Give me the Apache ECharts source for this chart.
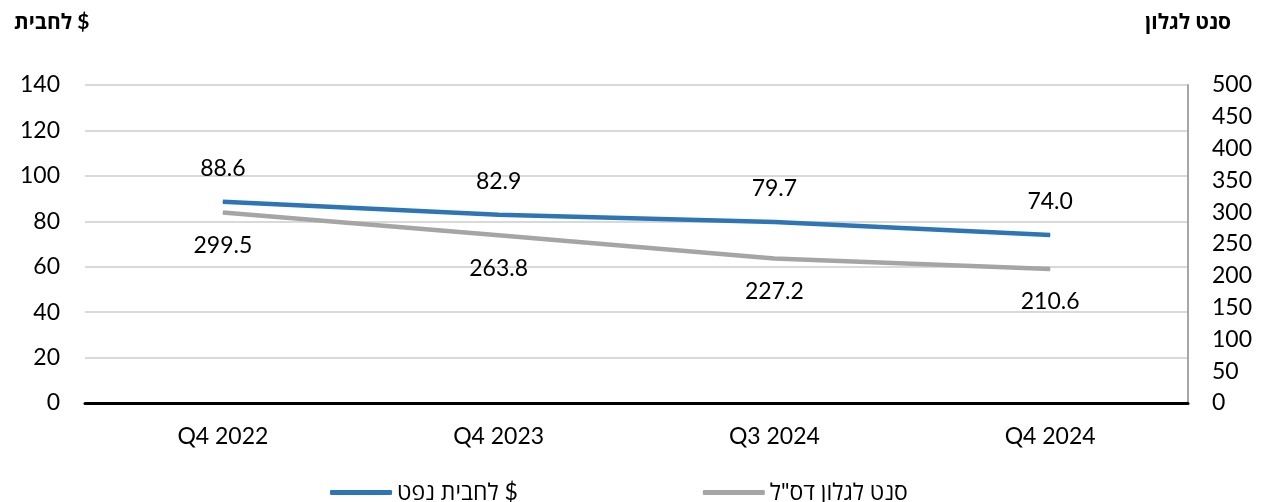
<!DOCTYPE html>
<html><head><meta charset="utf-8">
<script src="https://cdn.jsdelivr.net/npm/echarts@6/dist/echarts.min.js"></script>
<style>html,body{margin:0;padding:0;background:#fff}#c{width:1265px;height:502px}</style>
</head><body><div id="c"></div>
<script>
const categories = ['Q4 2022', 'Q4 2023', 'Q3 2024', 'Q4 2024'];
const oilValues = [88.6, 82.9, 79.7, 74.0];
const dieselValues = [299.5, 263.8, 227.2, 210.6];
const oilName = '$ לחבית נפט';
const dieselName = 'סנט לגלון דס"ל';
const leftTitle = '$ לחבית';
const rightTitle = 'סנט לגלון';

const RLM = '\u200F';
const FONT = 'Lato, "Open Sans", "DejaVu Sans", sans-serif';
const FS = 23;
const chart = echarts.init(document.getElementById('c'));
chart.setOption({
  animation: false,
  textStyle: { fontFamily: FONT },
  title: [
    { text: RLM + leftTitle, left: 9, top: 7, textStyle: { fontFamily: FONT, fontSize: 21, fontWeight: 'bold', color: '#000' } },
    { text: RLM + rightTitle, right: 29, top: 7, textStyle: { fontFamily: FONT, fontSize: 21, fontWeight: 'bold', color: '#000' } }
  ],
  legend: {
    left: 325, top: 476, icon: 'roundRect', itemWidth: 62, itemHeight: 5, itemGap: 185,
    textStyle: { fontFamily: FONT, fontSize: FS, color: '#000' },
    formatter: n => RLM + n,
    data: [oilName, dieselName]
  },
  grid: { left: 85, right: 77, top: 85, bottom: 99 },
  xAxis: {
    type: 'category', data: categories, boundaryGap: true,
    axisLine: { lineStyle: { color: '#000', width: 3 } },
    axisTick: { show: false },
    axisLabel: { color: '#000', fontSize: FS, margin: 22, fontFamily: FONT }
  },
  yAxis: [
    { type: 'value', min: 0, max: 140, interval: 20,
      axisLine: { show: false }, axisTick: { show: false },
      axisLabel: { color: '#000', fontSize: FS, margin: 25, fontFamily: FONT },
      splitLine: { lineStyle: { color: '#D9D9D9', width: 2 } } },
    { type: 'value', min: 0, max: 500, interval: 50, position: 'right',
      axisLine: { show: true, lineStyle: { color: '#A6A6A6', width: 2 } }, axisTick: { show: false },
      axisLabel: { color: '#000', fontSize: FS, margin: 24, fontFamily: FONT },
      splitLine: { show: false } }
  ],
  series: [
    { name: oilName, type: 'line', yAxisIndex: 0, data: oilValues, symbol: 'circle', symbolSize: 1, showSymbol: true,
      lineStyle: { color: '#2E75B6', width: 4.5 }, itemStyle: { color: '#2E75B6' },
      label: { show: true, position: 'top', distance: 21, color: '#000', fontSize: FS, fontFamily: FONT,
        formatter: p => p.value.toFixed(1) } },
    { name: dieselName, type: 'line', yAxisIndex: 1, data: dieselValues, symbol: 'circle', symbolSize: 1, showSymbol: true,
      lineStyle: { color: '#A5A5A5', width: 4.5 }, itemStyle: { color: '#A5A5A5' },
      label: { show: true, position: 'bottom', distance: 21, color: '#000', fontSize: FS, fontFamily: FONT,
        formatter: p => p.value.toFixed(1) } }
  ]
});
</script></body></html>
